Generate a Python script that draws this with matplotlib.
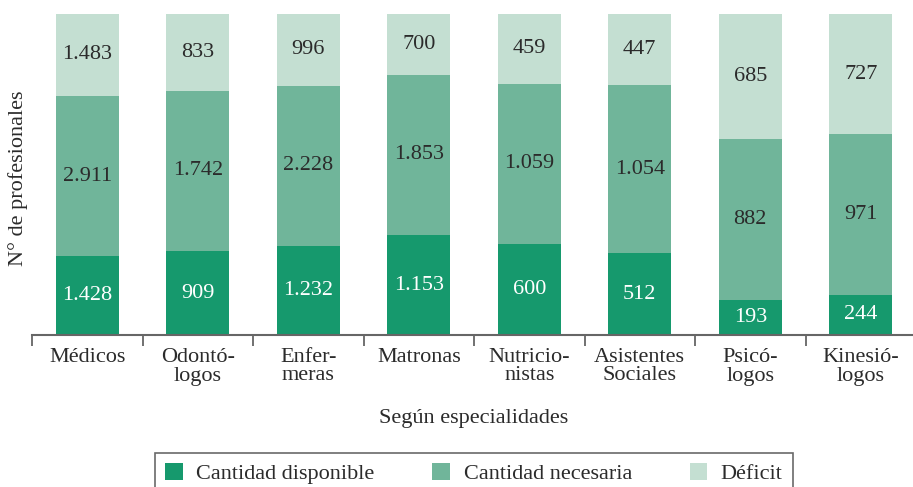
import numpy as np
import matplotlib
import matplotlib.pyplot as plt
from matplotlib.patches import Patch

matplotlib.use('agg')
plt.rcParams['font.family'] = ['Liberation Serif', 'DejaVu Serif']

categorias = ['Médicos', 'Odontó-\nlogos', 'Enfer-\nmeras', 'Matronas', 'Nutricio-\nnistas',
              'Asistentes\nSociales', 'Psicó-\nlogos', 'Kinesió-\nlogos']
disponible = [1428, 909, 1232, 1153, 600, 512, 193, 244]
necesaria = [2911, 1742, 2228, 1853, 1059, 1054, 882, 971]
deficit = [1483, 833, 996, 700, 459, 447, 685, 727]

series = ['Cantidad disponible', 'Cantidad necesaria', 'Déficit']
colores = ['#16996d', '#70b59a', '#c4dfd2']
colores_texto = ['white', '#2b2b2b', '#2b2b2b']
fs = 16


def fmt(v):
    return f'{v:,}'.replace(',', '.')


fig = plt.figure(figsize=(9.13, 4.87), dpi=100)
ax = fig.add_axes([32/913, (487-335)/487, (916-32)/913, 321/487])

datos = np.array([disponible, necesaria, deficit], dtype=float)
totales = datos.sum(axis=0)
x = np.arange(len(categorias))
base = np.zeros(len(categorias))

for i, nombre in enumerate(series):
    frac = datos[i] / totales
    ax.bar(x, frac, 0.57, bottom=base, color=colores[i], label=nombre)
    for xi, b, f, v in zip(x, base, frac, datos[i]):
        ax.text(xi, b + f/2, fmt(int(v)), ha='center', va='center',
                fontsize=fs, color=colores_texto[i])
    base += frac

ax.set_xlim(-0.5, 7.5)
ax.set_ylim(0, 1)
for s in ['left', 'right', 'top']:
    ax.spines[s].set_visible(False)
ax.spines['bottom'].set_color('#666666')
ax.spines['bottom'].set_linewidth(1.5)
ax.set_yticks([])
ax.set_xticks(x)
ax.set_xticklabels(categorias, fontsize=fs, color='#2b2b2b', linespacing=1.0)
ax.tick_params(axis='x', which='major', length=0, pad=9)
ax.set_xticks(np.arange(-0.5, 8, 1), minor=True)
ax.tick_params(axis='x', which='minor', length=8, width=1.3, color='#666666')

fig.text(18/913, 1-178/487, 'N° de profesionales', rotation=90, ha='center', va='center',
         fontsize=fs, color='#2b2b2b')
fig.text(474/913, 1-418/487, 'Según especialidades', ha='center', va='center',
         fontsize=fs, color='#2b2b2b')

handles = [Patch(facecolor=c, edgecolor='none') for c in colores]
leg = fig.legend(handles, series, loc='upper center', bbox_to_anchor=(474/913, 1-453/487),
                 ncol=3, fontsize=fs, frameon=True, fancybox=False, borderaxespad=0,
                 handlelength=0.8, handleheight=0.8, handletextpad=0.6,
                 columnspacing=2.6, borderpad=0.45, labelcolor='#2b2b2b')
leg.get_frame().set_edgecolor('#444444')
leg.get_frame().set_linewidth(1.2)

fig.savefig('out.png', dpi=100)
